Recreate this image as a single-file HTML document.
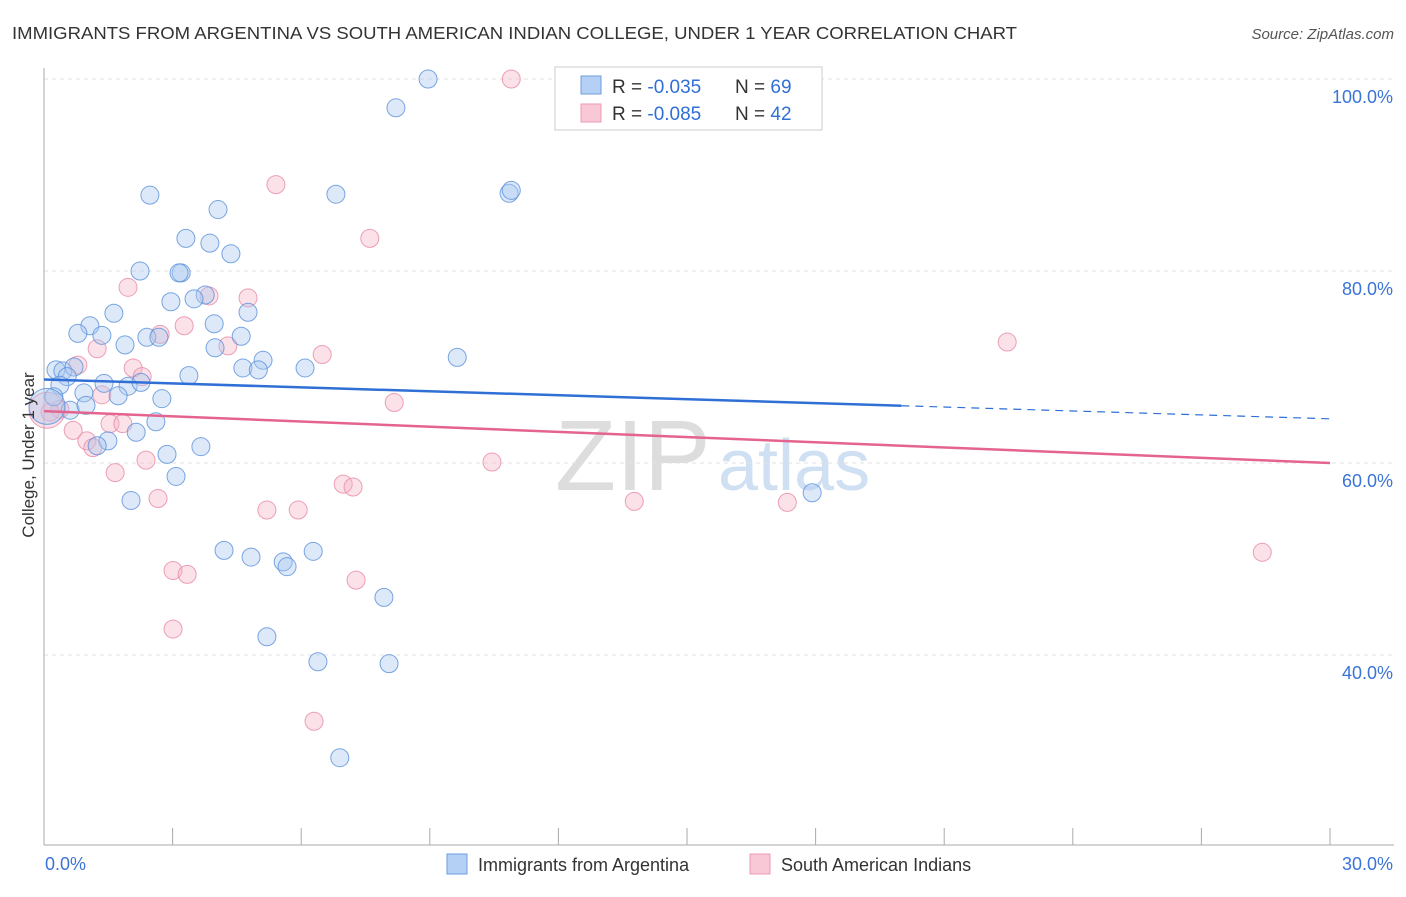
<!DOCTYPE html>
<html><head><meta charset="utf-8"><style>
body{margin:0;background:#fff;font-family:"Liberation Sans",sans-serif;}
svg text{font-family:"Liberation Sans",sans-serif;}
</style></head><body>
<svg id="chart" width="1406" height="892" xmlns="http://www.w3.org/2000/svg">
<text x="12" y="39" font-size="17.5" fill="#333" textLength="1005" lengthAdjust="spacingAndGlyphs">IMMIGRANTS FROM ARGENTINA VS SOUTH AMERICAN INDIAN COLLEGE, UNDER 1 YEAR CORRELATION CHART</text>
<text x="1394" y="39" font-size="15" fill="#555" font-style="italic" text-anchor="end">Source: ZipAtlas.com</text>
<text x="555" y="490" font-size="100" fill="#ddd" font-family="Liberation Serif">ZIP</text>
<text x="718" y="490" font-size="72" fill="#cfe0f3">atlas</text>
<g id="grid"></g><g id="marks"></g>
<text x="34" y="455" font-size="17" fill="#333" text-anchor="middle" transform="rotate(-90 34 455)">College, Under 1 year</text>
<g>
<rect x="555" y="67" width="267" height="63" fill="#fff" stroke="#ccc"/>
<rect x="581" y="76" width="20" height="18" fill="#b5d0f5" stroke="#6d9be0"/>
<rect x="581" y="104" width="20" height="18" fill="#f8c8d6" stroke="#ec9ab2"/>
<text x="612" y="93" font-size="19" fill="#333">R = <tspan fill="#2f6fd6">-0.035</tspan></text>
<text x="735" y="93" font-size="19" fill="#333">N = <tspan fill="#2f6fd6">69</tspan></text>
<text x="612" y="120" font-size="19" fill="#333">R = <tspan fill="#2f6fd6">-0.085</tspan></text>
<text x="735" y="120" font-size="19" fill="#333">N = <tspan fill="#2f6fd6">42</tspan></text>
</g>
<g>
<rect x="447" y="854" width="20" height="20" fill="#b5d0f5" stroke="#6d9be0"/>
<text x="478" y="871" font-size="18" fill="#333">Immigrants from Argentina</text>
<rect x="750" y="854" width="20" height="20" fill="#f8c8d6" stroke="#ec9ab2"/>
<text x="781" y="871" font-size="18" fill="#333">South American Indians</text>
</g>
</svg>
<script>
const yTicks=[100,80,60,40];
const xTickLabels=["0.0%","30.0%"];
const blueX=[8.96,8.21,2.47,6.81,10.85,10.9,4.06,3.31,3.87,4.36,2.24,3.2,3.15,3.76,3.5,2.96,1.63,4.76,1.07,3.97,0.79,1.35,2.4,2.68,4.6,1.89,3.99,9.64,5.11,4.64,5.0,6.09,0.28,0.44,0.7,0.54,3.38,1.4,0.37,1.96,2.26,1.73,0.93,2.75,0.23,0.61,0.98,2.61,2.15,1.49,1.24,3.66,2.87,3.08,2.03,17.92,4.2,4.83,6.28,5.58,5.67,7.93,5.2,6.39,8.05,6.9,0.07];
const blueY=[100,97,87.9,88,88.1,88.4,86.4,83.4,82.9,81.8,80,79.8,79.8,77.5,77.1,76.8,75.6,75.7,74.3,74.5,73.5,73.3,73.1,73.1,73.2,72.3,72,71,70.7,69.9,69.7,69.9,69.7,69.6,70,69,69.1,68.3,68.1,68,68.4,67,67.3,66.7,66.9,65.5,66,64.3,63.2,62.3,61.8,61.7,60.9,58.6,56.1,56.9,50.9,50.2,50.8,49.7,49.2,46,41.9,39.3,39.1,29.3,65.9];
const pinkX=[10.9,5.41,7.6,1.96,3.85,4.76,3.27,2.71,1.24,4.29,6.49,22.47,0.79,2.08,2.29,1.35,8.17,0.37,0.14,0.68,1.54,1.84,1.0,1.14,2.38,1.66,10.45,6.98,7.21,2.66,13.77,17.34,5.2,5.93,28.42,3.01,3.34,7.28,3.01,6.3,0.07];
const pinkY=[100,89,83.4,78.3,77.4,77.2,74.3,73.4,71.9,72.2,71.3,72.6,70.2,69.9,69,67.1,66.3,65.6,65.3,63.4,64.1,64.1,62.3,61.6,60.3,59,60.1,57.8,57.5,56.3,56,55.9,55.1,55.1,50.7,48.8,48.4,47.8,42.7,33.1,65.5];
const blueTrend=[68.7,64.6];const pinkTrend=[65.4,60.0];
const X=v=>44+v/30*1286, Y=v=>79+(100-v)*9.6;
const NS="http://www.w3.org/2000/svg";
const g=document.getElementById('grid'),m=document.getElementById('marks');
function mk(tag,at,p){const e=document.createElementNS(NS,tag);for(const k in at)e.setAttribute(k,at[k]);p.appendChild(e);return e;}
yTicks.forEach(t=>{const l=mk('line',{x1:44,x2:1394,y1:Y(t),y2:Y(t),stroke:'#e2e2e2','stroke-dasharray':'4,4'},g);


const tx=mk('text',{x:1393,y:Y(t)+24,'font-size':18,fill:'#3a74d8','text-anchor':'end'},g);tx.textContent=t.toFixed(1)+'%';

});
mk('line',{x1:44,x2:44,y1:68,y2:845,stroke:'#aaa'},g);
mk('line',{x1:44,x2:1394,y1:845,y2:845,stroke:'#aaa'},g);
for(let i=0;i<=10;i++){mk('line',{x1:X(i*3),x2:X(i*3),y1:828,y2:845,stroke:'#aaa'},g);}
xTickLabels.forEach((s,i)=>{const tx=mk('text',{x:i?1393:45,y:870,'font-size':18,fill:'#3a74d8','text-anchor':i?'end':'start'},g);tx.textContent=s;

});
function dots(xs,ys,fill,stroke,name){xs.forEach((x,i)=>{const big=x<0.1;const c=mk('circle',{cx:X(x),cy:Y(ys[i]),r:big?18:9,fill:fill,'fill-opacity':0.4,stroke:stroke,'stroke-opacity':0.8,'stroke-width':1},m);

});}
dots(pinkX,pinkY,'#f4b3c6','#e88aa7','point-south-american-indians');
dots(blueX,blueY,'#a9c8f0','#5a90db','point-argentina');
const by=x=>blueTrend[0]+(blueTrend[1]-blueTrend[0])*x/30;
let l=mk('line',{x1:X(0),y1:Y(by(0)),x2:X(20),y2:Y(by(20)),stroke:'#2f6fd6','stroke-width':2.5},m);


l=mk('line',{x1:X(20),y1:Y(by(20)),x2:X(30),y2:Y(by(30)),stroke:'#2f6fd6','stroke-width':1.2,'stroke-dasharray':'8,6'},m);


l=mk('line',{x1:X(0),y1:Y(pinkTrend[0]),x2:X(30),y2:Y(pinkTrend[1]),stroke:'#e4648d','stroke-width':2.5},m);


</script>
</body></html>
